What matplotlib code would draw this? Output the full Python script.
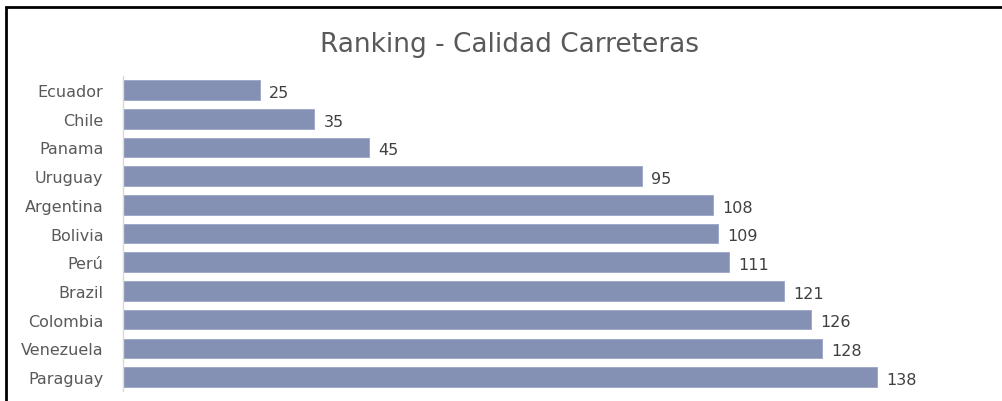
import matplotlib
matplotlib.use('Agg')
import matplotlib.pyplot as plt
from matplotlib.patches import Rectangle

countries = ['Ecuador', 'Chile', 'Panama', 'Uruguay', 'Argentina', 'Bolivia',
             'Perú', 'Brazil', 'Colombia', 'Venezuela', 'Paraguay']
ranking = [25, 35, 45, 95, 108, 109, 111, 121, 126, 128, 138]

plt.rcParams['font.family'] = ['DejaVu Sans']
txt = '#595959'

fig = plt.figure(figsize=(10.03, 4.02), dpi=100)
ax = fig.add_axes([123 / 1003, 1 - 392.4 / 402, (997 - 123) / 1003, 315.7 / 402])

ypos = list(range(len(countries)))
bars = ax.barh(ypos, ranking, height=0.68, color='#8490B4', edgecolor='#9AA4C4', linewidth=0.6)
ax.set_xlim(0, 160)
ax.set_ylim(len(countries) - 0.5, -0.5)
ax.set_yticks(ypos)
ax.set_yticklabels(countries, fontsize=11.5, color=txt)
ax.tick_params(axis='y', length=0, pad=14)
ax.set_xticks([])
for s in ['top', 'right', 'bottom']:
    ax.spines[s].set_visible(False)
ax.spines['left'].set_color('#D9D9D9')
ax.spines['left'].set_linewidth(1)

for b, v in zip(bars, ranking):
    ax.text(b.get_width() + 1.7, b.get_y() + b.get_height() / 2 + 0.08, str(v),
            va='center', ha='left', fontsize=11.5, color='#404040')

fig.text(510 / 1003, 1 - 52 / 402, 'Ranking - Calidad Carreteras', ha='center', va='baseline',
         fontsize=19, color=txt)

# border of the chart area
fig.patches.append(Rectangle((6.5 / 1003, -0.1), 1.2, (1 - 7.5 / 402) + 0.1,
                             transform=fig.transFigure, fill=False,
                             edgecolor='black', linewidth=2, figure=fig))

fig.savefig('out.png', dpi=100)
